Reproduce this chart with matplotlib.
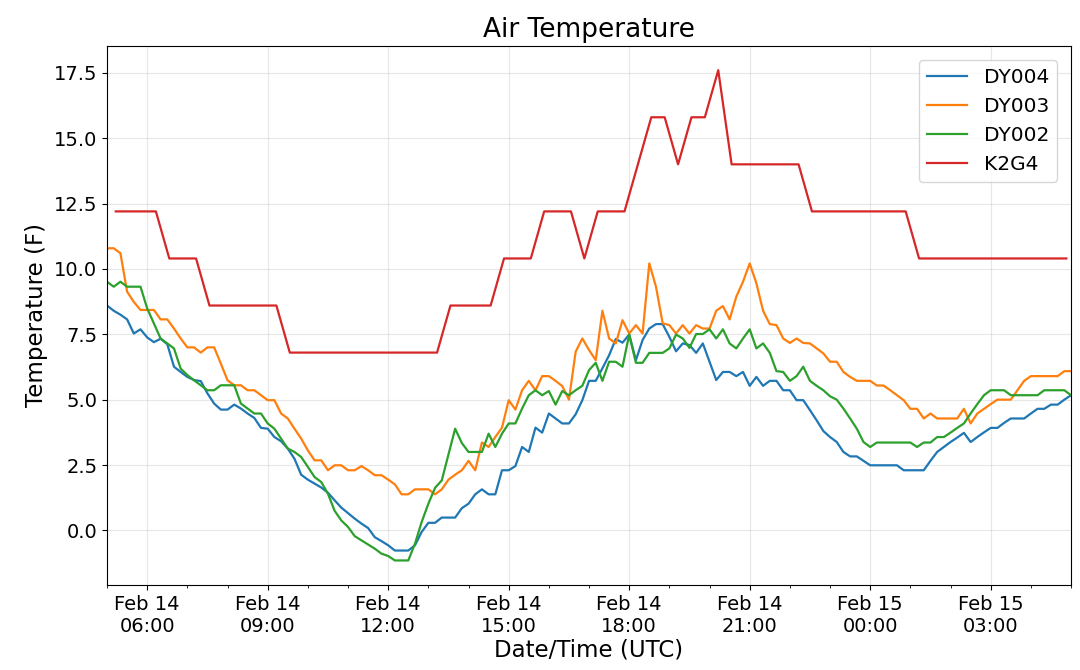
import pandas as pd
import matplotlib
matplotlib.use('Agg')
import matplotlib.pyplot as plt
import matplotlib.dates as mdates

# 10-minute station records, Feb 14 05:00 -> Feb 15 05:00 (UTC)
dy004 = [8.6, 8.4, 8.25, 8.07, 7.53, 7.69, 7.38, 7.2, 7.33, 7.12,
         6.26, 6.06, 5.87, 5.75, 5.71, 5.24, 4.85, 4.62, 4.62, 4.81,
         4.66, 4.47, 4.30, 3.92, 3.89, 3.57, 3.41, 3.13, 2.74, 2.13,
         1.94, 1.79, 1.64, 1.44, 1.15, 0.87, 0.66, 0.45, 0.26, 0.09,
         -0.26, -0.41, -0.57, -0.77, -0.77, -0.77, -0.57, -0.06, 0.29, 0.29,
         0.49, 0.49, 0.49, 0.85, 1.02, 1.38, 1.57, 1.38, 1.38, 2.30,
         2.30, 2.46, 3.19, 3.00, 3.93, 3.74, 4.47, 4.28, 4.09, 4.09,
         4.44, 4.98, 5.72, 5.72, 6.2, 6.7, 7.32, 7.18, 7.49, 6.51,
         7.28, 7.72, 7.89, 7.89, 7.40, 6.85, 7.15, 7.09, 6.79, 7.15,
         6.45, 5.75, 6.06, 6.06, 5.90, 6.06, 5.53, 5.87, 5.53, 5.72,
         5.72, 5.36, 5.36, 4.98, 4.98, 4.60, 4.21, 3.8, 3.57, 3.38,
         3.00, 2.83, 2.83, 2.66, 2.49, 2.49, 2.49, 2.49, 2.49, 2.30,
         2.30, 2.30, 2.30, 2.66, 3.00, 3.19, 3.38, 3.55, 3.73, 3.38,
         3.57, 3.75, 3.92, 3.92, 4.11, 4.28, 4.28, 4.28, 4.47, 4.65,
         4.65, 4.81, 4.81, 5.0, 5.17]

dy003 = [10.79, 10.79, 10.60, 9.13, 8.74, 8.43, 8.43, 8.43, 8.07, 8.07,
         7.72, 7.34, 7.0, 7.0, 6.80, 7.0, 7.0, 6.38, 5.74, 5.55,
         5.55, 5.36, 5.36, 5.17, 4.98, 4.98, 4.47, 4.28, 3.89, 3.51,
         3.06, 2.68, 2.68, 2.30, 2.49, 2.49, 2.30, 2.30, 2.46, 2.30,
         2.11, 2.11, 1.94, 1.76, 1.38, 1.38, 1.57, 1.57, 1.57, 1.38,
         1.57, 1.94, 2.13, 2.30, 2.66, 2.30, 3.36, 3.19, 3.57, 3.93,
         4.98, 4.62, 5.36, 5.72, 5.36, 5.90, 5.90, 5.72, 5.52, 5.0,
         6.83, 7.34, 6.9, 6.51, 8.40, 7.34, 7.15, 8.04, 7.53, 7.85,
         7.53, 10.21, 9.32, 7.92, 7.85, 7.53, 7.85, 7.53, 7.85, 7.72,
         7.72, 8.40, 8.58, 8.07, 8.94, 9.51, 10.21, 9.45, 8.40, 7.89,
         7.85, 7.34, 7.17, 7.34, 7.17, 7.15, 6.96, 6.77, 6.45, 6.45,
         6.06, 5.87, 5.72, 5.72, 5.72, 5.54, 5.54, 5.36, 5.17, 4.98,
         4.65, 4.65, 4.28, 4.47, 4.28, 4.28, 4.28, 4.28, 4.65, 4.09,
         4.47, 4.65, 4.83, 5.0, 5.0, 5.0, 5.36, 5.72, 5.90, 5.90,
         5.90, 5.90, 5.90, 6.09, 6.09]

dy002 = [9.51, 9.32, 9.51, 9.32, 9.32, 9.32, 8.49, 7.92, 7.34, 7.15,
         6.96, 6.19, 5.94, 5.74, 5.55, 5.36, 5.36, 5.55, 5.55, 5.55,
         4.85, 4.66, 4.47, 4.47, 4.09, 3.89, 3.51, 3.13, 3.0, 2.81,
         2.43, 2.04, 1.85, 1.40, 0.75, 0.38, 0.13, -0.22, -0.38, -0.54,
         -0.70, -0.89, -0.98, -1.15, -1.15, -1.15, -0.51, 0.32, 1.02, 1.63,
         1.91, 2.90, 3.89, 3.34, 3.0, 3.0, 3.0, 3.70, 3.19, 3.70,
         4.09, 4.09, 4.66, 5.17, 5.36, 5.17, 5.33, 4.81, 5.33, 5.17,
         5.36, 5.53, 6.13, 6.41, 5.72, 6.45, 6.45, 6.26, 7.49, 6.41,
         6.41, 6.79, 6.79, 6.79, 6.96, 7.49, 7.34, 6.98, 7.51, 7.51,
         7.69, 7.34, 7.69, 7.15, 6.96, 7.34, 7.69, 6.96, 7.15, 6.79,
         6.09, 6.06, 5.72, 5.90, 6.26, 5.72, 5.53, 5.36, 5.13, 5.0,
         4.66, 4.28, 3.89, 3.38, 3.19, 3.36, 3.36, 3.36, 3.36, 3.36,
         3.36, 3.19, 3.36, 3.36, 3.57, 3.57, 3.74, 3.92, 4.09, 4.47,
         4.83, 5.17, 5.36, 5.36, 5.36, 5.17, 5.17, 5.17, 5.17, 5.17,
         5.36, 5.36, 5.36, 5.36, 5.17]

# K2G4 reports every 20 minutes starting 05:13
k2g4 = [12.2, 12.2, 12.2, 12.2, 10.4, 10.4, 10.4, 8.6, 8.6, 8.6,
        8.6, 8.6, 8.6, 6.8, 6.8, 6.8, 6.8, 6.8, 6.8, 6.8,
        6.8, 6.8, 6.8, 6.8, 6.8, 8.6, 8.6, 8.6, 8.6, 10.4,
        10.4, 10.4, 12.2, 12.2, 12.2, 10.4, 12.2, 12.2, 12.2, 14.0,
        15.8, 15.8, 14.0, 15.8, 15.8, 17.6, 14.0, 14.0, 14.0, 14.0,
        14.0, 14.0, 12.2, 12.2, 12.2, 12.2, 12.2, 12.2, 12.2, 12.2,
        10.4, 10.4, 10.4, 10.4, 10.4, 10.4, 10.4, 10.4, 10.4, 10.4,
        10.4, 10.4]

t_dy = pd.date_range('2019-02-14 05:00', periods=len(dy004), freq='10min')
t_k2 = pd.date_range('2019-02-14 05:13', periods=len(k2g4), freq='20min')

fig = plt.figure(figsize=(10.8, 6.7), dpi=100)
ax = fig.add_axes([0.0991, 0.1269, 0.8926, 0.8049])

ax.plot(t_dy, dy004, color='tab:blue', lw=1.6, label='DY004')
ax.plot(t_dy, dy003, color='tab:orange', lw=1.6, label='DY003')
ax.plot(t_dy, dy002, color='tab:green', lw=1.6, label='DY002')
ax.plot(t_k2, k2g4, color='tab:red', lw=1.6, label='K2G4')

ax.set_xlim(t_dy[0], t_dy[-1])
ax.xaxis.set_major_locator(mdates.HourLocator(byhour=range(0, 24, 3)))
ax.xaxis.set_minor_locator(mdates.HourLocator())
ax.xaxis.set_major_formatter(mdates.DateFormatter('%b %d\n%H:%M'))
ax.tick_params(axis='both', which='major', labelsize=14)

ax.grid(True, which='major', color='#b0b0b0', alpha=0.3)
ax.set_title('Air Temperature', fontsize=19)
ax.set_xlabel('Date/Time (UTC)', fontsize=16.5, labelpad=2)
ax.set_ylabel('Temperature (F)', fontsize=16.5)
ax.legend(loc='upper right', fontsize=14.5, borderaxespad=0.7)

fig.savefig('out.png', dpi=100)
